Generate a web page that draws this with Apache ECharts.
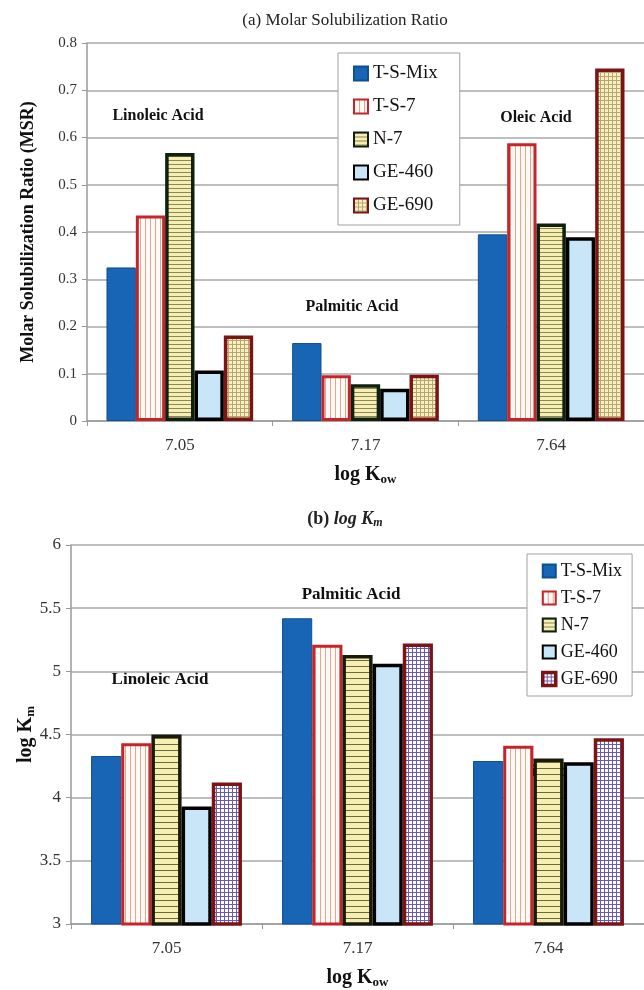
<!DOCTYPE html>
<html>
<head>
<meta charset="utf-8">
<script src="https://cdn.jsdelivr.net/npm/echarts@6/dist/echarts.min.js"></script>
<style>
  html, body { margin: 0; padding: 0; background: #fff; }
  #main { width: 644px; height: 990px; }
</style>
</head>
<body>
<div id="main"></div>
<script>
// categories (log Kow) and acid names
var categories = ['7.05', '7.17', '7.64'];
var acids = ['Linoleic Acid', 'Palmitic Acid', 'Oleic Acid'];
var seriesNames = ['T-S-Mix', 'T-S-7', 'N-7', 'GE-460', 'GE-690'];

// (a) Molar Solubilization Ratio
var msrTsMix = [0.325, 0.165, 0.395];
var msrTs7 = [0.435, 0.097, 0.588];
var msrN7 = [0.567, 0.078, 0.418];
var msrGe460 = [0.107, 0.068, 0.389];
var msrGe690 = [0.181, 0.098, 0.746];

// (b) log Km
var kmTsMix = [4.33, 5.42, 4.29];
var kmTs7 = [4.43, 5.21, 4.41];
var kmN7 = [4.50, 5.13, 4.31];
var kmGe460 = [3.93, 5.06, 4.28];
var kmGe690 = [4.12, 5.22, 4.47];

var yTicksMsr = [0, 0.8, 0.1];
var yTicksKm = [3, 6, 0.5];

var FONT = '"Liberation Serif", "DejaVu Serif", serif';

// small canvas patterns for the hatched bars
function pattern(bg, line, kind, step) {
  var c = document.createElement('canvas');
  c.width = step; c.height = step;
  var ctx = c.getContext('2d');
  ctx.fillStyle = bg;
  ctx.fillRect(0, 0, step, step);
  ctx.fillStyle = line;
  if (kind === 'v' || kind === 'grid') ctx.fillRect(0, 0, 1, step);
  if (kind === 'h' || kind === 'grid') ctx.fillRect(0, 0, step, 1);
  return { image: c, repeat: 'repeat' };
}

var stylesTop = [
  { color: '#1765b4', borderColor: '#0e4f92', borderWidth: 1 },
  { color: pattern('#fffaf6', '#e9a48c', 'v', 5), borderColor: '#c4252b', borderWidth: 3 },
  { color: pattern('#f6efb4', '#8f8658', 'h', 4), borderColor: '#0f200f', borderWidth: 3.5 },
  { color: '#c8e6f8', borderColor: '#000', borderWidth: 3.5 },
  { color: pattern('#f6f0c4', '#b8a66c', 'grid', 4), borderColor: '#7b1416', borderWidth: 3.5 }
];
var stylesBottom = [
  stylesTop[0],
  { color: pattern('#fffaf6', '#e9a48c', 'v', 5), borderColor: '#c4252b', borderWidth: 3 },
  { color: pattern('#f6efb4', '#6f6838', 'h', 6), borderColor: '#1a1a0a', borderWidth: 3.5 },
  stylesTop[3],
  { color: pattern('#ffffff', '#6a5cb4', 'grid', 4), borderColor: '#7b1416', borderWidth: 3.5 }
];

var topData = [msrTsMix, msrTs7, msrN7, msrGe460, msrGe690];
var bottomData = [kmTsMix, kmTs7, kmN7, kmGe460, kmGe690];

var series = [];
seriesNames.forEach(function (name, i) {
  series.push({
    name: name, type: 'bar', xAxisIndex: 0, yAxisIndex: 0,
    barGap: '0%', barCategoryGap: '21%',
    itemStyle: stylesTop[i], data: topData[i]
  });
});
seriesNames.forEach(function (name, i) {
  series.push({
    name: name, type: 'bar', xAxisIndex: 1, yAxisIndex: 1,
    barGap: '0%', barCategoryGap: '21%',
    itemStyle: stylesBottom[i], data: bottomData[i]
  });
});

function xAxis(gridIndex) {
  return {
    type: 'category', gridIndex: gridIndex, data: categories,
    name: '{b|log K}{s|ow}', nameLocation: 'middle', nameGap: 42,
    nameTextStyle: {
      rich: {
        b: { fontFamily: FONT, fontSize: 20, fontWeight: 'bold', color: '#111' },
        s: { fontFamily: FONT, fontSize: 13, fontWeight: 'bold', color: '#111', padding: [10, 0, 0, 0] }
      }
    },
    axisLine: { lineStyle: { color: '#9a9a9a', width: 1.5 } },
    axisTick: { show: true, length: 5, lineStyle: { color: '#9a9a9a' } },
    axisLabel: { fontFamily: FONT, fontSize: 17, color: '#333', margin: 16 }
  };
}

function yAxis(gridIndex, t, name, gap) {
  return {
    type: 'value', gridIndex: gridIndex, min: t[0], max: t[1], interval: t[2],
    name: name, nameLocation: 'middle', nameRotate: 90, nameGap: gap,
    nameMoveOverlap: false,
    nameTextStyle: {
      fontFamily: FONT, fontSize: 18, fontWeight: 'bold', color: '#111',
      rich: {
        b: { fontFamily: FONT, fontSize: 20, fontWeight: 'bold', color: '#111' },
        s: { fontFamily: FONT, fontSize: 13, fontWeight: 'bold', color: '#111', padding: [10, 0, 0, 0] }
      }
    },
    axisLine: { show: true, lineStyle: { color: '#9a9a9a', width: 1.5 } },
    axisTick: { show: true, length: 5, lineStyle: { color: '#9a9a9a' } },
    splitLine: { lineStyle: { color: '#a8a8a8', width: 1.5 } },
    axisLabel: { fontFamily: FONT, fontSize: gridIndex ? 17 : 15, color: '#333', margin: 10 }
  };
}

function note(text, x, y, size) {
  return {
    type: 'text', x: x, y: y,
    style: {
      text: text, fontFamily: FONT, fontSize: size, fontWeight: 'bold',
      fill: '#111', align: 'center', verticalAlign: 'middle'
    }
  };
}

var legendBase = {
  orient: 'vertical', icon: 'rect',
  backgroundColor: '#fff', borderColor: '#a0a0a0', borderWidth: 1,
  textStyle: { fontFamily: FONT, color: '#111' }
};

var myChart = echarts.init(document.getElementById('main'));
myChart.setOption({
  animation: false,
  backgroundColor: '#fff',
  title: [
    {
      text: '(a) Molar Solubilization Ratio', left: 340, top: 7, textAlign: 'center',
      textStyle: { fontFamily: FONT, fontSize: 17, fontWeight: 'normal', color: '#222' }
    },
    {
      text: '{n|(b) }{b|log K}{s|m}', left: 340, top: 504, textAlign: 'center',
      textStyle: {
        rich: {
          n: { fontFamily: FONT, fontSize: 18, color: '#222' },
          b: { fontFamily: FONT, fontSize: 18, fontWeight: 'bold', fontStyle: 'italic', color: '#222' },
          s: { fontFamily: FONT, fontSize: 12, fontWeight: 'bold', fontStyle: 'italic', color: '#222', padding: [8, 0, 0, 0] }
        }
      }
    }
  ],
  legend: [
    Object.assign({}, legendBase, {
      left: 338, top: 53, itemGap: 14, itemWidth: 14, itemHeight: 14,
      padding: [11, 22, 10, 15],
      textStyle: { fontFamily: FONT, fontSize: 19, color: '#111' },
      data: seriesNames
    }),
    Object.assign({}, legendBase, {
      left: 527, top: 554, itemGap: 9, itemWidth: 13, itemHeight: 13,
      padding: [8, 10, 8, 14],
      textStyle: { fontFamily: FONT, fontSize: 18, color: '#111' },
      data: seriesNames.map(function (n, i) {
        return i === 4 ? { name: n, itemStyle: stylesBottom[4] } : n;
      })
    })
  ],
  grid: [
    { left: 87, top: 43, right: -4, height: 378 },
    { left: 71, top: 545, right: -6, height: 379 }
  ],
  xAxis: [xAxis(0), xAxis(1)],
  yAxis: [
    yAxis(0, yTicksMsr, 'Molar Solubilization Ratio (MSR)', 50),
    yAxis(1, yTicksKm, '{b|log K}{s|m}', 34)
  ],
  graphic: [
    note(acids[0], 158, 116, 16),
    note(acids[1], 352, 307, 16),
    note(acids[2], 536, 118, 16),
    note(acids[0], 160, 680, 17),
    note(acids[1], 351, 595, 17),
    note(acids[2], 543, 772, 17)
  ],
  series: series
});
</script>
</body>
</html>
